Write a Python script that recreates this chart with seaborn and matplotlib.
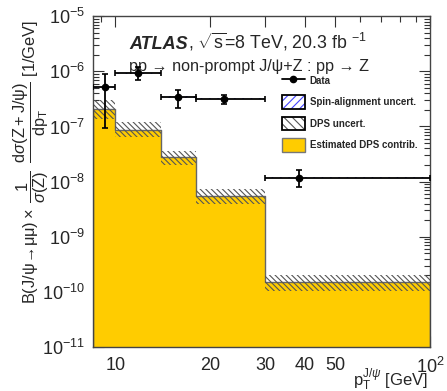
import numpy as np
import pandas as pd
import seaborn as sns
import matplotlib
matplotlib.use("Agg")
import matplotlib.pyplot as plt
from matplotlib.patches import Patch
from matplotlib.lines import Line2D
from matplotlib.ticker import FixedLocator, FixedFormatter, LogLocator, NullFormatter

# ---------------- data ----------------
bin_edges = [8.5, 10, 14, 18, 30, 100]
data_x = [9.3, 11.8, 15.8, 22.1, 38.4]
data_y = [5.1e-7, 9.2e-7, 3.4e-7, 3.2e-7, 1.18e-8]
data_err_up = [4.0e-7, 2.6e-7, 1.1e-7, 0.6e-7, 0.42e-8]
data_err_dn = [4.15e-7, 2.3e-7, 1.2e-7, 0.6e-7, 0.38e-8]
dps_central = [2.05e-7, 8.5e-8, 2.75e-8, 5.6e-9, 1.5e-10]
dps_high = [3.05e-7, 1.2e-7, 3.6e-8, 7.2e-9, 2.0e-10]
dps_low = [1.35e-7, 6.4e-8, 2.0e-8, 3.9e-9, 1.05e-10]
spin_frac = [0.04, 0.03, 0.03, 0.03, 0.03]
x_tick_vals = [10, 20, 30, 40, 50, 100]
x_tick_labels = ["10", "20", "30", "40", "50", r"$10^{2}$"]

sns.set_style("ticks")
plt.rcParams['font.family'] = ['Liberation Sans', 'DejaVu Sans']
plt.rcParams['mathtext.fontset'] = 'custom'
plt.rcParams['mathtext.rm'] = 'Liberation Sans'
plt.rcParams['mathtext.it'] = 'Liberation Sans:italic'
plt.rcParams['mathtext.bf'] = 'Liberation Sans:bold'
plt.rcParams['hatch.linewidth'] = 0.8

fig = plt.figure(figsize=(4.47, 3.91), dpi=100)
ax = fig.add_axes([0.208, 0.1125, 0.754, 0.846])

edges = np.array(bin_edges)
lo_e = edges[:-1]
hi_e = edges[1:]
centers = np.sqrt(lo_e * hi_e)
widths = hi_e - lo_e

df = pd.DataFrame({"pt": centers, "w": dps_central})
sns.histplot(data=df, x="pt", weights="w", bins=list(bin_edges), element="step",
             fill=True, color="#ffcc00", alpha=1.0, edgecolor="#666666",
             linewidth=1.0, ax=ax, zorder=1)

# DPS uncertainty hatch band
ax.bar(lo_e, np.array(dps_high) - np.array(dps_low), bottom=dps_low,
       width=widths, align="edge", fill=False, hatch="\\\\\\\\\\\\",
       edgecolor="#555555", linewidth=0, zorder=2)

# Spin-alignment band around data
dy = np.array(data_y)
sf = np.array(spin_frac)
ax.bar(lo_e, dy * 2 * sf, bottom=dy * (1 - sf), width=widths, align="edge",
       fill=False, hatch="////", edgecolor="#4444ff", linewidth=0, zorder=3)

# Data points
xerr = np.array([np.array(data_x) - lo_e, hi_e - np.array(data_x)])
yerr = np.array([data_err_dn, data_err_up])
ax.errorbar(data_x, data_y, xerr=xerr, yerr=yerr, fmt="o", color="black",
            markersize=4.5, elinewidth=1.3, capsize=2.5, capthick=1.2, zorder=5)

ax.set_xscale("log")
ax.set_yscale("log")
ax.set_xlim(8.5, 100)
ax.set_ylim(1e-11, 1e-5)

ax.xaxis.set_major_locator(FixedLocator(x_tick_vals))
ax.xaxis.set_major_formatter(FixedFormatter(x_tick_labels))
ax.xaxis.set_minor_locator(FixedLocator([9, 60, 70, 80, 90]))
ax.xaxis.set_minor_formatter(NullFormatter())
ax.yaxis.set_major_locator(LogLocator(base=10, numticks=20))
ax.yaxis.set_minor_locator(LogLocator(base=10, subs=np.arange(2, 10), numticks=20))
ax.yaxis.set_minor_formatter(NullFormatter())

ax.tick_params(which="both", direction="in", top=True, right=True,
               color="#333333", width=0.8)
ax.tick_params(which="major", length=8, labelsize=13, pad=6)
ax.tick_params(which="minor", length=4)
ax.tick_params(axis="x", which="major", pad=7)
for s in ax.spines.values():
    s.set_color("#444444")
    s.set_linewidth(1.0)

ax.set_xlabel("")
ax.set_ylabel("")
fig.text(0.958, 0.012, r"$\mathrm{p}_{\mathrm{T}}^{\mathrm{J}/\psi}$ [GeV]",
         ha="right", va="baseline", fontsize=12)
fig.text(0.07, 0.585,
         r"$\mathrm{B(J/\psi\!\rightarrow\!\mu\mu)}\times\;\dfrac{1}{\sigma(\mathrm{Z})}\;\;\dfrac{\mathrm{d}\sigma(\mathrm{Z+J/\psi})}{\mathrm{dp_T}}$ [1/GeV]",
         rotation=90, ha="center", va="center", fontsize=11.8)

t1 = ax.text(0.108, 0.9, "ATLAS", transform=ax.transAxes, fontsize=13,
             fontweight="bold", fontstyle="italic", va="baseline")
ax.annotate(r", $\sqrt{\mathrm{s}}$=8 TeV, 20.3 fb $^{-1}$", xy=(1.0, 0.0), xycoords=t1,
            va="bottom", fontsize=12.8)
ax.text(0.108, 0.835, "pp \u2192 non-prompt J/\u03c8+Z : pp \u2192 Z",
        transform=ax.transAxes, fontsize=11.6, va="baseline")

# Legend
h_data = Line2D([], [], color="black", marker="o", markersize=4.5, lw=1.3)
h_spin = (Patch(facecolor="white", edgecolor="#4444ff", hatch="////", lw=0),
          Patch(fill=False, edgecolor="black", lw=1.3))
h_dps = (Patch(facecolor="white", edgecolor="#555555", hatch="\\\\\\\\", lw=0),
         Patch(fill=False, edgecolor="black", lw=1.3))
h_est = Patch(facecolor="#ffcc00", edgecolor="#777777", lw=1.0)
leg = fig.legend([h_data, h_spin, h_dps, h_est],
                 ["Data", "Spin-alignment uncert.", "DPS uncert.", "Estimated DPS contrib."],
                 loc="upper left", bbox_to_anchor=(0.63, 0.812), frameon=False,
                 borderaxespad=0, borderpad=0,
                 prop={"weight": "bold", "size": 7.0}, handlelength=2.4,
                 handleheight=1.8, labelspacing=0.8, handletextpad=0.5)

fig.savefig("out.png", dpi=100)
